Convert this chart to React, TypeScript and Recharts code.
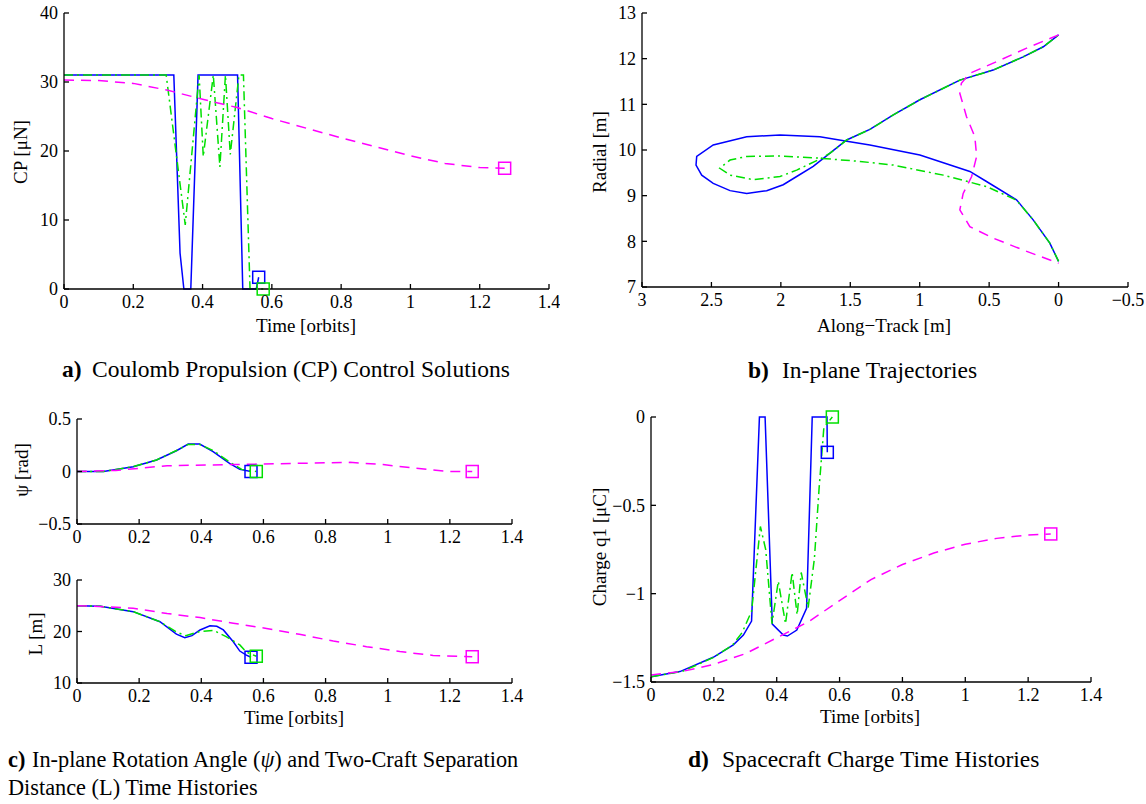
import React from "react";
import { LineChart, Line, XAxis, YAxis, ReferenceDot } from "recharts";

// shared ticks
const timeTicks = [0, 0.2, 0.4, 0.6, 0.8, 1, 1.2, 1.4];
const cpTicks = [0, 10, 20, 30, 40];
const alongTicks = [3, 2.5, 2, 1.5, 1, 0.5, 0, -0.5];
const radialTicks = [7, 8, 9, 10, 11, 12, 13];
const psiTicks = [-0.5, 0, 0.5];
const sepTicks = [10, 20, 30];
const chargeTicks = [-1.5, -1, -0.5, 0];

// a) Coulomb propulsion
const cpTimeBlue = [0, 0.317, 0.335, 0.346, 0.366, 0.387, 0.501, 0.516, 0.555, 0.562];
const cpBlue = [31, 31, 5.2, 0, 0, 31, 31, 0, 0, 1.7];
const cpTimeGreen = [0, 0.295, 0.35, 0.39, 0.402, 0.431, 0.45, 0.466, 0.48, 0.505, 0.518, 0.537, 0.575];
const cpGreen = [31, 31, 9.3, 31, 19.2, 31, 17.7, 31, 19.5, 31, 31, 0, 0];
const cpTimeMag = [0, 0.1, 0.2, 0.3, 0.4, 0.5, 0.6, 0.7, 0.8, 0.9, 1.0, 1.1, 1.2, 1.272];
const cpMag = [30.3, 30.2, 29.8, 28.8, 27.5, 26.3, 24.7, 23.3, 21.9, 20.6, 19.3, 18.2, 17.6, 17.5];

// b) in-plane trajectories (along-track, radial)
const trAlongBlue = [0, 0.063, 0.183, 0.303, 0.519, 0.639, 0.999, 1.359, 1.503, 1.719, 2.006, 2.246, 2.487, 2.606, 2.611, 2.57, 2.487, 2.366, 2.246, 2.102, 1.983, 1.886, 1.767, 1.646, 1.526, 1.359, 1.19, 0.999, 0.711, 0.471, 0.255, 0.11, 0];
const trRadialBlue = [7.56, 7.96, 8.47, 8.91, 9.31, 9.53, 9.89, 10.11, 10.18, 10.29, 10.33, 10.29, 10.11, 9.86, 9.67, 9.45, 9.27, 9.11, 9.05, 9.11, 9.24, 9.42, 9.64, 9.93, 10.22, 10.45, 10.77, 11.1, 11.53, 11.75, 12.04, 12.26, 12.52];
const trAlongGreen = [0, 0.063, 0.183, 0.303, 0.519, 0.83, 1.19, 1.43, 1.72, 2.006, 2.246, 2.366, 2.44, 2.366, 2.2, 2.006, 1.886, 1.72, 1.646, 1.526, 1.359, 1.19, 0.999, 0.711, 0.471, 0.255, 0.11, 0];
const trRadialGreen = [7.56, 7.96, 8.47, 8.9, 9.2, 9.45, 9.67, 9.75, 9.82, 9.87, 9.86, 9.78, 9.6, 9.45, 9.35, 9.42, 9.56, 9.8, 9.93, 10.22, 10.45, 10.77, 11.1, 11.53, 11.75, 12.04, 12.26, 12.52];
const trAlongMag = [0, 0.23, 0.42, 0.639, 0.7, 0.711, 0.663, 0.603, 0.59, 0.626, 0.687, 0.711, 0.639, 0.471, 0.255, 0];
const trRadialMag = [12.52, 12.23, 11.97, 11.68, 11.46, 11.24, 10.73, 10.29, 9.86, 9.42, 9.05, 8.69, 8.32, 8.07, 7.81, 7.52];

// c) rotation angle psi
const psiTimeBlue = [0, 0.085, 0.181, 0.256, 0.32, 0.358, 0.395, 0.438, 0.491, 0.524, 0.56];
const psiBlue = [0, 0, 0.046, 0.11, 0.198, 0.262, 0.262, 0.19, 0.078, 0.02, 0];
const psiTimeGreen = [0, 0.085, 0.181, 0.256, 0.32, 0.358, 0.395, 0.438, 0.491, 0.53, 0.577];
const psiGreen = [0, 0, 0.046, 0.11, 0.2, 0.258, 0.258, 0.2, 0.09, 0.02, 0];
const psiTimeMag = [0, 0.125, 0.29, 0.5, 0.716, 0.878, 0.985, 1.092, 1.2, 1.272];
const psiMag = [0, 0.01, 0.055, 0.066, 0.078, 0.087, 0.066, 0.03, 0, 0];

// c) separation distance L
const sepTimeBlue = [0, 0.075, 0.181, 0.267, 0.32, 0.347, 0.37, 0.396, 0.428, 0.45, 0.471, 0.503, 0.524, 0.545, 0.56];
const sepBlue = [25, 24.9, 23.85, 21.9, 19.5, 18.8, 19.2, 20.3, 21.1, 21.0, 20.3, 18.0, 16.2, 15.4, 15];
const sepTimeGreen = [0, 0.075, 0.181, 0.267, 0.32, 0.35, 0.396, 0.44, 0.48, 0.524, 0.545, 0.577];
const sepGreen = [25, 24.9, 23.85, 21.9, 19.9, 19.2, 20.0, 20.2, 19.0, 17.4, 16.0, 15.2];
const sepTimeMag = [0, 0.096, 0.181, 0.29, 0.396, 0.503, 0.61, 0.716, 0.825, 0.932, 1.039, 1.146, 1.272];
const sepMag = [25, 24.8, 24.5, 23.5, 22.7, 21.6, 20.6, 19.45, 18.15, 17.05, 16.1, 15.35, 15.1];

// d) charge q1
const qTimeBlue = [0, 0.092, 0.198, 0.262, 0.294, 0.32, 0.345, 0.363, 0.386, 0.421, 0.434, 0.464, 0.495, 0.513, 0.56, 0.561];
const qBlue = [-1.47, -1.441, -1.36, -1.29, -1.234, -1.155, 0, 0, -1.172, -1.234, -1.24, -1.206, -1.083, 0, 0, -0.2];
const qTimeGreen = [0, 0.1, 0.2, 0.26, 0.29, 0.32, 0.348, 0.365, 0.385, 0.405, 0.428, 0.449, 0.465, 0.478, 0.5, 0.52, 0.535, 0.55, 0.577];
const qGreen = [-1.47, -1.44, -1.36, -1.29, -1.22, -1.1, -0.62, -0.75, -1.17, -0.93, -1.17, -0.88, -1.12, -0.88, -1.08, -0.8, -0.4, -0.06, 0];
const qTimeMag = [0, 0.1, 0.2, 0.3, 0.4, 0.5, 0.6, 0.7, 0.8, 0.9, 1.0, 1.1, 1.2, 1.272];
const qMag = [-1.46, -1.44, -1.4, -1.34, -1.25, -1.16, -1.04, -0.92, -0.835, -0.77, -0.72, -0.687, -0.668, -0.662];

const BLUE = "#0000ff";
const GREEN = "#00e000";
const MAGENTA = "#ff00ff";
const FONT = "'Liberation Serif', 'Times New Roman', serif";

type Pt = { x: number; y: number };
const zip = (xs: number[], ys: number[]): Pt[] => xs.map((x, i) => ({ x, y: ys[i] }));

type Series = { pts: Pt[]; color: string; dash?: string };

const blueStyle = (pts: Pt[]): Series => ({ pts, color: BLUE });
const greenStyle = (pts: Pt[]): Series => ({ pts, color: GREEN, dash: "9 4 2 4" });
const magStyle = (pts: Pt[]): Series => ({ pts, color: MAGENTA, dash: "10 7" });

const fmt = (v: number) => (v < 0 ? "\u2212" + Math.abs(v) : String(v));
const tickFont = { fontSize: 18, fill: "#000", fontFamily: FONT };
const axisStroke = { stroke: "#000", strokeWidth: 1.3 };

interface PanelProps {
  left: number;
  top: number;
  width: number;
  height: number;
  margin: { top: number; right: number; bottom: number; left: number };
  yWidth: number;
  xHeight: number;
  xDomain: [number, number];
  xTicks: number[];
  yDomain: [number, number];
  yTicks: number[];
  reversed?: boolean;
  series: Series[];
  markers?: boolean;
}

const square = (color: string) => (p: any) => (
  <rect x={p.cx - 6} y={p.cy - 6} width={12} height={12} fill="none" stroke={color} strokeWidth={1.5} />
);

function Panel(props: PanelProps) {
  const { left, top, width, height, margin, yWidth, xHeight, xDomain, xTicks, yDomain, yTicks, reversed, series, markers } = props;
  return (
    <div style={{ position: "absolute", left, top }}>
      <LineChart width={width} height={height} margin={margin}>
        <XAxis
          xAxisId={0}
          type="number"
          dataKey="x"
          domain={xDomain}
          ticks={xTicks}
          reversed={reversed}
          interval={0}
          height={xHeight}
          tickSize={-5}
          tickMargin={11}
          tick={tickFont}
          tickFormatter={fmt}
          axisLine={axisStroke}
          tickLine={axisStroke}
        />
        <XAxis
          xAxisId="top"
          orientation="top"
          type="number"
          domain={xDomain}
          ticks={xTicks}
          reversed={reversed}
          interval={0}
          height={0}
          tickSize={-5}
          tickFormatter={() => ""}
          axisLine={axisStroke}
          tickLine={axisStroke}
        />
        <YAxis
          yAxisId={0}
          type="number"
          domain={yDomain}
          ticks={yTicks}
          interval={0}
          width={yWidth}
          tickSize={-5}
          tickMargin={11}
          tick={tickFont}
          tickFormatter={fmt}
          axisLine={axisStroke}
          tickLine={axisStroke}
        />
        <YAxis
          yAxisId="right"
          orientation="right"
          type="number"
          domain={yDomain}
          ticks={yTicks}
          interval={0}
          width={0}
          tickSize={-5}
          tickFormatter={() => ""}
          axisLine={axisStroke}
          tickLine={axisStroke}
        />
        {series.map((s, i) => (
          <Line
            key={i}
            data={s.pts}
            dataKey="y"
            type="linear"
            stroke={s.color}
            strokeWidth={1.5}
            strokeDasharray={s.dash}
            dot={false}
            activeDot={false}
            isAnimationActive={false}
          />
        ))}
        {markers &&
          series.map((s, i) => {
            const last = s.pts[s.pts.length - 1];
            return <ReferenceDot key={"m" + i} x={last.x} y={last.y} r={6} ifOverflow="visible" shape={square(s.color)} />;
          })}
      </LineChart>
    </div>
  );
}

export default function App() {
  return (
    <div style={{ position: "absolute", left: 0, top: 0, width: 1146, height: 804, background: "#fff", fontFamily: FONT }}>
      <svg width={1146} height={804} style={{ position: "absolute", left: 0, top: 0 }} fontFamily={FONT} fill="#000">
        {/* axis titles */}
        <text x={306} y={332} fontSize={19} textAnchor="middle">Time [orbits]</text>
        <text transform="translate(27,152) rotate(-90)" fontSize={19} textAnchor="middle">CP [μN]</text>
        <text x={884} y={332} fontSize={19} textAnchor="middle">Along{"\u2212"}Track [m]</text>
        <text transform="translate(606,152) rotate(-90)" fontSize={19} textAnchor="middle">Radial [m]</text>
        <text transform="translate(28,470) rotate(-90)" fontSize={19} textAnchor="middle">ψ [rad]</text>
        <text transform="translate(42,634) rotate(-90)" fontSize={19} textAnchor="middle">L [m]</text>
        <text x={294} y={724} fontSize={19} textAnchor="middle">Time [orbits]</text>
        <text transform="translate(606,547) rotate(-90)" fontSize={19} textAnchor="middle">Charge q1 [μC]</text>
        <text x={870} y={723} fontSize={19} textAnchor="middle">Time [orbits]</text>
        {/* captions */}
        <text x={62} y={377} fontSize={23.5}>
          <tspan fontWeight="bold">a)</tspan>
          <tspan x={92}>Coulomb Propulsion (CP) Control Solutions</tspan>
        </text>
        <text x={748} y={378} fontSize={23.5}>
          <tspan fontWeight="bold">b)</tspan>
          <tspan x={782}>In-plane Trajectories</tspan>
        </text>
        <text x={8} y={767} fontSize={22.3}>
          <tspan fontWeight="bold">c)</tspan>
          <tspan x={32}>In-plane Rotation Angle (</tspan>
          <tspan fontStyle="italic">ψ</tspan>
          <tspan>) and Two-Craft Separation</tspan>
        </text>
        <text x={8} y={795} fontSize={22.3}>Distance (L) Time Histories</text>
        <text x={688} y={767} fontSize={23.5}>
          <tspan fontWeight="bold">d)</tspan>
          <tspan x={722}>Spacecraft Charge Time Histories</tspan>
        </text>
      </svg>

      <Panel
        left={0}
        top={0}
        width={560}
        height={320}
        margin={{ top: 13, right: 11, bottom: 0, left: 0 }}
        yWidth={64}
        xHeight={31}
        xDomain={[0, 1.4]}
        xTicks={timeTicks}
        yDomain={[0, 40]}
        yTicks={cpTicks}
        markers
        series={[blueStyle(zip(cpTimeBlue, cpBlue)), greenStyle(zip(cpTimeGreen, cpGreen)), magStyle(zip(cpTimeMag, cpMag))]}
      />
      <Panel
        left={580}
        top={0}
        width={566}
        height={320}
        margin={{ top: 13, right: 18, bottom: 0, left: 0 }}
        yWidth={62}
        xHeight={33}
        xDomain={[-0.5, 3]}
        xTicks={alongTicks}
        yDomain={[7, 13]}
        yTicks={radialTicks}
        reversed
        series={[blueStyle(zip(trAlongBlue, trRadialBlue)), greenStyle(zip(trAlongGreen, trRadialGreen)), magStyle(zip(trAlongMag, trRadialMag))]}
      />
      <Panel
        left={0}
        top={400}
        width={530}
        height={150}
        margin={{ top: 19, right: 18, bottom: 0, left: 0 }}
        yWidth={77}
        xHeight={26}
        xDomain={[0, 1.4]}
        xTicks={timeTicks}
        yDomain={[-0.5, 0.5]}
        yTicks={psiTicks}
        markers
        series={[blueStyle(zip(psiTimeBlue, psiBlue)), greenStyle(zip(psiTimeGreen, psiGreen)), magStyle(zip(psiTimeMag, psiMag))]}
      />
      <Panel
        left={0}
        top={560}
        width={530}
        height={150}
        margin={{ top: 20, right: 18, bottom: 0, left: 0 }}
        yWidth={77}
        xHeight={27}
        xDomain={[0, 1.4]}
        xTicks={timeTicks}
        yDomain={[10, 30]}
        yTicks={sepTicks}
        markers
        series={[blueStyle(zip(sepTimeBlue, sepBlue)), greenStyle(zip(sepTimeGreen, sepGreen)), magStyle(zip(sepTimeMag, sepMag))]}
      />
      <Panel
        left={580}
        top={400}
        width={530}
        height={320}
        margin={{ top: 17, right: 19, bottom: 0, left: 0 }}
        yWidth={71}
        xHeight={38}
        xDomain={[0, 1.4]}
        xTicks={timeTicks}
        yDomain={[-1.5, 0]}
        yTicks={chargeTicks}
        markers
        series={[blueStyle(zip(qTimeBlue, qBlue)), greenStyle(zip(qTimeGreen, qGreen)), magStyle(zip(qTimeMag, qMag))]}
      />
    </div>
  );
}
